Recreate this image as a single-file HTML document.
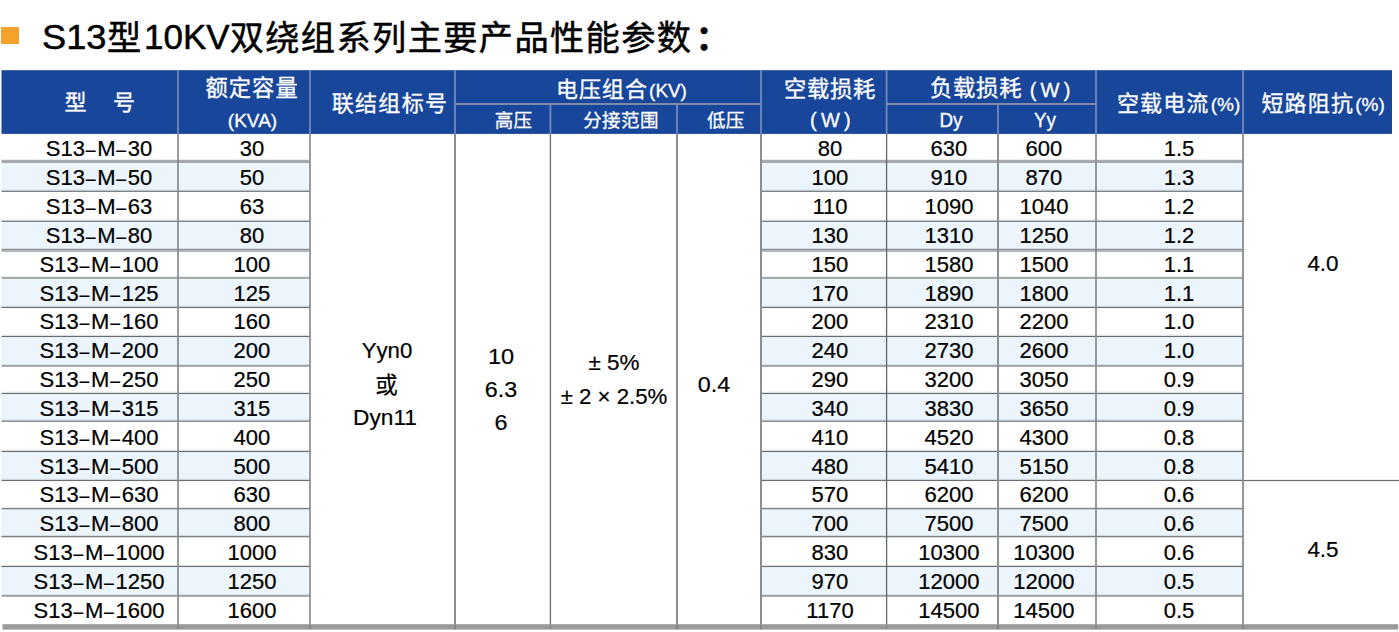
<!DOCTYPE html>
<html lang="zh-CN">
<head>
<meta charset="utf-8">
<title>S13型10KV双绕组系列主要产品性能参数</title>
<style>
html,body{margin:0;padding:0;background:#fff}
body{width:1399px;height:632px;position:relative;overflow:hidden;font-family:"Liberation Sans",sans-serif}
div,svg,span{position:absolute}
.ttl,.tbl,.th,.tr{position:static;margin:0;font-weight:normal;font-size:0}
.t{white-space:nowrap;line-height:1}
.tt{-webkit-text-stroke:0.5px #000}
.hw{-webkit-text-stroke:0.3px #fff}
.tr .t,.mc{-webkit-text-stroke:0.2px #000}
.tr i{display:inline-block;font-style:normal;transform:translateY(0.7px) scaleX(0.8)}
.cj{font-family:"Liberation Sans","Noto Sans CJK SC",sans-serif;font-weight:normal}
.sq{background:#f5a12b}
.grid{left:0;top:0}
.hd{fill:#17469a}
.st{fill:#ebf5fb}
.hl{fill:#6a6e73}
.vl{fill:#8a8e93}
.h2{fill:#a4a8ad}
.hs{fill:rgba(100,110,118,.17)}
.vb{fill:rgba(0,0,0,.13)}
.hv{fill:#7488bb}
.hh{fill:#838aa8}
.bar{fill:#9a9a9a}
</style>
</head>
<body>
<!-- title -->
<div class="sq" style="left:1.3px;top:27.0px;width:17.7px;height:16.6px"></div>
<h1 class="ttl" aria-label="S13型10KV双绕组系列主要产品性能参数：">
<span class="t tt" style="left:42.0px;top:19.80px;font-size:34.5px;color:#000;transform:scaleX(1.05);transform-origin:0 50%">S13</span>
<span class="t tt cj" style="left:107.0px;top:20.8px;font-size:34.2px;color:#000">型</span>
<span class="t tt" style="left:144.3px;top:19.80px;font-size:34.5px;color:#000;transform:scaleX(1.015);transform-origin:0 50%">10KV</span>
<span class="t tt cj" style="left:229.7px;top:20.8px;font-size:34.2px;color:#000;letter-spacing:1.4px">双绕组系列主要产品性能参数</span>
<span class="t tt cj" style="left:695.5px;top:20.8px;font-size:34.2px;color:#000;font-weight:bold">：</span>
</h1>
<!-- table -->
<div class="tbl" role="table">
<svg class="grid" width="1399" height="632" viewBox="0 0 1399 632" aria-hidden="true">
<rect class="hd" x="1.5" y="70.2" width="1390.5" height="63.7"/>
<rect class="st" x="1.5" y="161" width="308.5" height="30.3"/>
<rect class="st" x="761" y="161" width="482" height="30.3"/>
<rect class="st" x="1.5" y="221.3" width="308.5" height="28.5"/>
<rect class="st" x="761" y="221.3" width="482" height="28.5"/>
<rect class="st" x="1.5" y="278" width="308.5" height="29.5"/>
<rect class="st" x="761" y="278" width="482" height="29.5"/>
<rect class="st" x="1.5" y="336.5" width="308.5" height="29.5"/>
<rect class="st" x="761" y="336.5" width="482" height="29.5"/>
<rect class="st" x="1.5" y="393.5" width="308.5" height="27.7"/>
<rect class="st" x="761" y="393.5" width="482" height="27.7"/>
<rect class="st" x="1.5" y="451.5" width="308.5" height="29"/>
<rect class="st" x="761" y="451.5" width="482" height="29"/>
<rect class="st" x="1.5" y="508.7" width="308.5" height="28"/>
<rect class="st" x="761" y="508.7" width="482" height="28"/>
<rect class="st" x="1.5" y="566.5" width="308.5" height="29.5"/>
<rect class="st" x="761" y="566.5" width="482" height="29.5"/>
<rect class="hs" x="1.5" y="159.2" width="308.5" height="1.3"/>
<rect class="hs" x="761" y="159.2" width="482" height="1.3"/>
<rect class="hl" x="1.5" y="160.45" width="308.5" height="1.1"/>
<rect class="hl" x="761" y="160.45" width="482" height="1.1"/>
<rect class="h2" x="1.5" y="161.6" width="308.5" height="1.4"/>
<rect class="h2" x="761" y="161.6" width="482" height="1.4"/>
<rect class="hs" x="1.5" y="189.5" width="308.5" height="1.3"/>
<rect class="hs" x="761" y="189.5" width="482" height="1.3"/>
<rect class="hl" x="1.5" y="190.75" width="308.5" height="1.1"/>
<rect class="hl" x="761" y="190.75" width="482" height="1.1"/>
<rect class="hs" x="1.5" y="219.5" width="308.5" height="1.3"/>
<rect class="hs" x="761" y="219.5" width="482" height="1.3"/>
<rect class="hl" x="1.5" y="220.75" width="308.5" height="1.1"/>
<rect class="hl" x="761" y="220.75" width="482" height="1.1"/>
<rect class="hs" x="1.5" y="248" width="308.5" height="1.3"/>
<rect class="hs" x="761" y="248" width="482" height="1.3"/>
<rect class="hl" x="1.5" y="249.25" width="308.5" height="1.1"/>
<rect class="hl" x="761" y="249.25" width="482" height="1.1"/>
<rect class="h2" x="1.5" y="250.4" width="308.5" height="1.4"/>
<rect class="h2" x="761" y="250.4" width="482" height="1.4"/>
<rect class="hs" x="1.5" y="276.2" width="308.5" height="1.3"/>
<rect class="hs" x="761" y="276.2" width="482" height="1.3"/>
<rect class="hl" x="1.5" y="277.45" width="308.5" height="1.1"/>
<rect class="hl" x="761" y="277.45" width="482" height="1.1"/>
<rect class="hs" x="1.5" y="305.7" width="308.5" height="1.3"/>
<rect class="hs" x="761" y="305.7" width="482" height="1.3"/>
<rect class="hl" x="1.5" y="306.95" width="308.5" height="1.1"/>
<rect class="hl" x="761" y="306.95" width="482" height="1.1"/>
<rect class="hs" x="1.5" y="334.7" width="308.5" height="1.3"/>
<rect class="hs" x="761" y="334.7" width="482" height="1.3"/>
<rect class="hl" x="1.5" y="335.95" width="308.5" height="1.1"/>
<rect class="hl" x="761" y="335.95" width="482" height="1.1"/>
<rect class="hs" x="1.5" y="364.2" width="308.5" height="1.3"/>
<rect class="hs" x="761" y="364.2" width="482" height="1.3"/>
<rect class="hl" x="1.5" y="365.45" width="308.5" height="1.1"/>
<rect class="hl" x="761" y="365.45" width="482" height="1.1"/>
<rect class="hs" x="1.5" y="391.7" width="308.5" height="1.3"/>
<rect class="hs" x="761" y="391.7" width="482" height="1.3"/>
<rect class="hl" x="1.5" y="392.95" width="308.5" height="1.1"/>
<rect class="hl" x="761" y="392.95" width="482" height="1.1"/>
<rect class="hs" x="1.5" y="419.4" width="308.5" height="1.3"/>
<rect class="hs" x="761" y="419.4" width="482" height="1.3"/>
<rect class="hl" x="1.5" y="420.65" width="308.5" height="1.1"/>
<rect class="hl" x="761" y="420.65" width="482" height="1.1"/>
<rect class="hs" x="1.5" y="449.7" width="308.5" height="1.3"/>
<rect class="hs" x="761" y="449.7" width="482" height="1.3"/>
<rect class="hl" x="1.5" y="450.95" width="308.5" height="1.1"/>
<rect class="hl" x="761" y="450.95" width="482" height="1.1"/>
<rect class="hs" x="1.5" y="478.7" width="308.5" height="1.3"/>
<rect class="hs" x="761" y="478.7" width="482" height="1.3"/>
<rect class="hl" x="1.5" y="479.95" width="308.5" height="1.1"/>
<rect class="hl" x="761" y="479.95" width="482" height="1.1"/>
<rect class="hs" x="1.5" y="506.9" width="308.5" height="1.3"/>
<rect class="hs" x="761" y="506.9" width="482" height="1.3"/>
<rect class="hl" x="1.5" y="508.15" width="308.5" height="1.1"/>
<rect class="hl" x="761" y="508.15" width="482" height="1.1"/>
<rect class="hs" x="1.5" y="534.9" width="308.5" height="1.3"/>
<rect class="hs" x="761" y="534.9" width="482" height="1.3"/>
<rect class="hl" x="1.5" y="536.15" width="308.5" height="1.1"/>
<rect class="hl" x="761" y="536.15" width="482" height="1.1"/>
<rect class="hs" x="1.5" y="564.7" width="308.5" height="1.3"/>
<rect class="hs" x="761" y="564.7" width="482" height="1.3"/>
<rect class="hl" x="1.5" y="565.95" width="308.5" height="1.1"/>
<rect class="hl" x="761" y="565.95" width="482" height="1.1"/>
<rect class="hs" x="1.5" y="594.2" width="308.5" height="1.3"/>
<rect class="hs" x="761" y="594.2" width="482" height="1.3"/>
<rect class="hl" x="1.5" y="595.45" width="308.5" height="1.1"/>
<rect class="hl" x="761" y="595.45" width="482" height="1.1"/>
<rect class="hl" x="1243" y="479.9" width="156" height="1.2"/>
<rect class="bar" x="2.5" y="624.2" width="1395.7" height="5.4"/>
<rect class="vl" x="177.15" y="133.9" width="1.7" height="490.3" style="fill:#868a90"/>
<rect class="vb" x="177.15" y="624.2" width="1.7" height="5.4"/>
<rect class="vl" x="309.15" y="133.9" width="1.7" height="490.3" style="fill:#8a8c8f"/>
<rect class="vb" x="309.15" y="624.2" width="1.7" height="5.4"/>
<rect class="vl" x="454" y="133.9" width="2" height="490.3" style="fill:#8c8e91"/>
<rect class="vb" x="454" y="624.2" width="2" height="5.4"/>
<rect class="vl" x="549.75" y="133.9" width="1.3" height="490.3" style="fill:#686b6f"/>
<rect class="vb" x="549.75" y="624.2" width="1.3" height="5.4"/>
<rect class="vl" x="676" y="133.9" width="2" height="490.3" style="fill:#8c8e91"/>
<rect class="vb" x="676" y="624.2" width="2" height="5.4"/>
<rect class="vl" x="760" y="133.9" width="2" height="490.3" style="fill:#8c8e91"/>
<rect class="vb" x="760" y="624.2" width="2" height="5.4"/>
<rect class="vl" x="885.95" y="133.9" width="1.3" height="490.3" style="fill:#62666b"/>
<rect class="vb" x="885.95" y="624.2" width="1.3" height="5.4"/>
<rect class="vl" x="997" y="133.9" width="2" height="490.3" style="fill:#8c9095"/>
<rect class="vb" x="997" y="624.2" width="2" height="5.4"/>
<rect class="vl" x="1095.15" y="133.9" width="1.7" height="490.3" style="fill:#868a8f"/>
<rect class="vb" x="1095.15" y="624.2" width="1.7" height="5.4"/>
<rect class="vl" x="1242.1" y="133.9" width="1.8" height="490.3" style="fill:#8a8c8f"/>
<rect class="vb" x="1242.1" y="624.2" width="1.8" height="5.4"/>
<rect class="hv" x="177.1" y="70.2" width="1.8" height="63.7"/>
<rect class="hv" x="309.1" y="70.2" width="1.8" height="63.7"/>
<rect class="hv" x="454.1" y="70.2" width="1.8" height="63.7"/>
<rect class="hv" x="549.5" y="104" width="1.8" height="29.9"/>
<rect class="hv" x="676.1" y="104" width="1.8" height="29.9"/>
<rect class="hv" x="760.1" y="70.2" width="1.8" height="63.7"/>
<rect class="hv" x="885.7" y="70.2" width="1.8" height="63.7"/>
<rect class="hv" x="997.1" y="104" width="1.8" height="29.9"/>
<rect class="hv" x="1095.1" y="70.2" width="1.8" height="63.7"/>
<rect class="hv" x="1242.1" y="70.2" width="1.8" height="63.7"/>
<rect class="hh" x="455" y="103" width="306" height="2"/>
<rect class="hh" x="886.6" y="103" width="209.4" height="2"/>
</svg>
<div class="th" role="columnheader">
<span class="t hw cj" style="left:64.4px;top:91.7px;font-size:22px;color:#fff">型</span>
<span class="t hw cj" style="left:113.0px;top:91.7px;font-size:22px;color:#fff">号</span>
</div>
<span class="t hw cj" style="left:205.5px;top:78.3px;font-size:22.3px;color:#fff;letter-spacing:1px">额定容量</span>
<span class="t hw" style="left:252.5px;top:111.12px;font-size:19px;color:#fff;transform:translateX(-50%)">(KVA)</span>
<span class="t hw cj" style="left:331.8px;top:92.5px;font-size:22px;color:#fff;letter-spacing:1.28px">联结组标号</span>
<span class="t hw cj" style="left:556.0px;top:79.0px;font-size:22px;color:#fff;letter-spacing:1px">电压组合</span>
<span class="t hw" style="left:668.0px;top:81.76px;font-size:18px;color:#fff;transform:translateX(-50%) scaleX(1.05)">(KV)</span>
<span class="t hw cj" style="left:494.8px;top:111.6px;font-size:18.5px;color:#fff;letter-spacing:0.25px">高压</span>
<span class="t hw cj" style="left:583.2px;top:111.8px;font-size:18.5px;color:#fff;letter-spacing:0.4px">分接范围</span>
<span class="t hw cj" style="left:706.9px;top:111.6px;font-size:18.5px;color:#fff;letter-spacing:0.25px">低压</span>
<span class="t hw cj" style="left:783.9px;top:78.7px;font-size:22.3px;color:#fff;letter-spacing:0.75px">空载损耗</span>
<span class="t hw" style="left:830.0px;top:110.07px;font-size:20px;color:#fff;transform:translateX(-50%);letter-spacing:-0.7px">( W )</span>
<span class="t hw cj" style="left:929.9px;top:78.1px;font-size:22.4px;color:#fff;letter-spacing:0.7px">负载损耗</span>
<span class="t hw" style="left:1049.7px;top:80.47px;font-size:20px;color:#fff;transform:translateX(-50%);letter-spacing:-0.7px">( W )</span>
<span class="t hw" style="left:950.8px;top:109.97px;font-size:20px;color:#fff;transform:translateX(-50%) scaleX(0.94)">Dy</span>
<span class="t hw" style="left:1044.8px;top:109.97px;font-size:20px;color:#fff;transform:translateX(-50%) scaleX(0.94)">Yy</span>
<span class="t hw cj" style="left:1117.0px;top:92.6px;font-size:22px;color:#fff;letter-spacing:1.1px">空载电流</span>
<span class="t hw" style="left:1225.5px;top:95.12px;font-size:19px;color:#fff;transform:translateX(-50%)">(%)</span>
<span class="t hw cj" style="left:1261.4px;top:92.6px;font-size:22px;color:#fff;letter-spacing:1.2px">短路阻抗</span>
<span class="t hw" style="left:1370.0px;top:95.12px;font-size:19px;color:#fff;transform:translateX(-50%)">(%)</span>
<div class="tr" role="row">
<span class="t" style="left:99.4px;top:138.47px;font-size:21.6px;color:#000;transform:translateX(-50%) scaleX(1.02)">S13<i>–</i>M<i>–</i>30</span>
<span class="t" style="left:251.8px;top:138.47px;font-size:21.6px;color:#000;transform:translateX(-50%) scaleX(1.02)">30</span>
<span class="t" style="left:829.9px;top:138.47px;font-size:21.6px;color:#000;transform:translateX(-50%) scaleX(1.02)">80</span>
<span class="t" style="left:949.0px;top:138.47px;font-size:21.6px;color:#000;transform:translateX(-50%) scaleX(1.02)">630</span>
<span class="t" style="left:1044.0px;top:138.47px;font-size:21.6px;color:#000;transform:translateX(-50%) scaleX(1.02)">600</span>
<span class="t" style="left:1178.5px;top:138.47px;font-size:21.6px;color:#000;transform:translateX(-50%) scaleX(1.02)">1.5</span>
</div>
<div class="tr" role="row">
<span class="t" style="left:99.4px;top:167.30px;font-size:21.6px;color:#000;transform:translateX(-50%) scaleX(1.02)">S13<i>–</i>M<i>–</i>50</span>
<span class="t" style="left:251.8px;top:167.30px;font-size:21.6px;color:#000;transform:translateX(-50%) scaleX(1.02)">50</span>
<span class="t" style="left:829.9px;top:167.30px;font-size:21.6px;color:#000;transform:translateX(-50%) scaleX(1.02)">100</span>
<span class="t" style="left:949.0px;top:167.30px;font-size:21.6px;color:#000;transform:translateX(-50%) scaleX(1.02)">910</span>
<span class="t" style="left:1044.0px;top:167.30px;font-size:21.6px;color:#000;transform:translateX(-50%) scaleX(1.02)">870</span>
<span class="t" style="left:1178.5px;top:167.30px;font-size:21.6px;color:#000;transform:translateX(-50%) scaleX(1.02)">1.3</span>
</div>
<div class="tr" role="row">
<span class="t" style="left:99.4px;top:196.13px;font-size:21.6px;color:#000;transform:translateX(-50%) scaleX(1.02)">S13<i>–</i>M<i>–</i>63</span>
<span class="t" style="left:251.8px;top:196.13px;font-size:21.6px;color:#000;transform:translateX(-50%) scaleX(1.02)">63</span>
<span class="t" style="left:829.9px;top:196.13px;font-size:21.6px;color:#000;transform:translateX(-50%) scaleX(1.02)">110</span>
<span class="t" style="left:949.0px;top:196.13px;font-size:21.6px;color:#000;transform:translateX(-50%) scaleX(1.02)">1090</span>
<span class="t" style="left:1044.0px;top:196.13px;font-size:21.6px;color:#000;transform:translateX(-50%) scaleX(1.02)">1040</span>
<span class="t" style="left:1178.5px;top:196.13px;font-size:21.6px;color:#000;transform:translateX(-50%) scaleX(1.02)">1.2</span>
</div>
<div class="tr" role="row">
<span class="t" style="left:99.4px;top:224.96px;font-size:21.6px;color:#000;transform:translateX(-50%) scaleX(1.02)">S13<i>–</i>M<i>–</i>80</span>
<span class="t" style="left:251.8px;top:224.96px;font-size:21.6px;color:#000;transform:translateX(-50%) scaleX(1.02)">80</span>
<span class="t" style="left:829.9px;top:224.96px;font-size:21.6px;color:#000;transform:translateX(-50%) scaleX(1.02)">130</span>
<span class="t" style="left:949.0px;top:224.96px;font-size:21.6px;color:#000;transform:translateX(-50%) scaleX(1.02)">1310</span>
<span class="t" style="left:1044.0px;top:224.96px;font-size:21.6px;color:#000;transform:translateX(-50%) scaleX(1.02)">1250</span>
<span class="t" style="left:1178.5px;top:224.96px;font-size:21.6px;color:#000;transform:translateX(-50%) scaleX(1.02)">1.2</span>
</div>
<div class="tr" role="row">
<span class="t" style="left:99.4px;top:253.79px;font-size:21.6px;color:#000;transform:translateX(-50%) scaleX(1.02)">S13<i>–</i>M<i>–</i>100</span>
<span class="t" style="left:251.8px;top:253.79px;font-size:21.6px;color:#000;transform:translateX(-50%) scaleX(1.02)">100</span>
<span class="t" style="left:829.9px;top:253.79px;font-size:21.6px;color:#000;transform:translateX(-50%) scaleX(1.02)">150</span>
<span class="t" style="left:949.0px;top:253.79px;font-size:21.6px;color:#000;transform:translateX(-50%) scaleX(1.02)">1580</span>
<span class="t" style="left:1044.0px;top:253.79px;font-size:21.6px;color:#000;transform:translateX(-50%) scaleX(1.02)">1500</span>
<span class="t" style="left:1178.5px;top:253.79px;font-size:21.6px;color:#000;transform:translateX(-50%) scaleX(1.02)">1.1</span>
</div>
<div class="tr" role="row">
<span class="t" style="left:99.4px;top:282.62px;font-size:21.6px;color:#000;transform:translateX(-50%) scaleX(1.02)">S13<i>–</i>M<i>–</i>125</span>
<span class="t" style="left:251.8px;top:282.62px;font-size:21.6px;color:#000;transform:translateX(-50%) scaleX(1.02)">125</span>
<span class="t" style="left:829.9px;top:282.62px;font-size:21.6px;color:#000;transform:translateX(-50%) scaleX(1.02)">170</span>
<span class="t" style="left:949.0px;top:282.62px;font-size:21.6px;color:#000;transform:translateX(-50%) scaleX(1.02)">1890</span>
<span class="t" style="left:1044.0px;top:282.62px;font-size:21.6px;color:#000;transform:translateX(-50%) scaleX(1.02)">1800</span>
<span class="t" style="left:1178.5px;top:282.62px;font-size:21.6px;color:#000;transform:translateX(-50%) scaleX(1.02)">1.1</span>
</div>
<div class="tr" role="row">
<span class="t" style="left:99.4px;top:311.45px;font-size:21.6px;color:#000;transform:translateX(-50%) scaleX(1.02)">S13<i>–</i>M<i>–</i>160</span>
<span class="t" style="left:251.8px;top:311.45px;font-size:21.6px;color:#000;transform:translateX(-50%) scaleX(1.02)">160</span>
<span class="t" style="left:829.9px;top:311.45px;font-size:21.6px;color:#000;transform:translateX(-50%) scaleX(1.02)">200</span>
<span class="t" style="left:949.0px;top:311.45px;font-size:21.6px;color:#000;transform:translateX(-50%) scaleX(1.02)">2310</span>
<span class="t" style="left:1044.0px;top:311.45px;font-size:21.6px;color:#000;transform:translateX(-50%) scaleX(1.02)">2200</span>
<span class="t" style="left:1178.5px;top:311.45px;font-size:21.6px;color:#000;transform:translateX(-50%) scaleX(1.02)">1.0</span>
</div>
<div class="tr" role="row">
<span class="t" style="left:99.4px;top:340.28px;font-size:21.6px;color:#000;transform:translateX(-50%) scaleX(1.02)">S13<i>–</i>M<i>–</i>200</span>
<span class="t" style="left:251.8px;top:340.28px;font-size:21.6px;color:#000;transform:translateX(-50%) scaleX(1.02)">200</span>
<span class="t" style="left:829.9px;top:340.28px;font-size:21.6px;color:#000;transform:translateX(-50%) scaleX(1.02)">240</span>
<span class="t" style="left:949.0px;top:340.28px;font-size:21.6px;color:#000;transform:translateX(-50%) scaleX(1.02)">2730</span>
<span class="t" style="left:1044.0px;top:340.28px;font-size:21.6px;color:#000;transform:translateX(-50%) scaleX(1.02)">2600</span>
<span class="t" style="left:1178.5px;top:340.28px;font-size:21.6px;color:#000;transform:translateX(-50%) scaleX(1.02)">1.0</span>
</div>
<div class="tr" role="row">
<span class="t" style="left:99.4px;top:369.11px;font-size:21.6px;color:#000;transform:translateX(-50%) scaleX(1.02)">S13<i>–</i>M<i>–</i>250</span>
<span class="t" style="left:251.8px;top:369.11px;font-size:21.6px;color:#000;transform:translateX(-50%) scaleX(1.02)">250</span>
<span class="t" style="left:829.9px;top:369.11px;font-size:21.6px;color:#000;transform:translateX(-50%) scaleX(1.02)">290</span>
<span class="t" style="left:949.0px;top:369.11px;font-size:21.6px;color:#000;transform:translateX(-50%) scaleX(1.02)">3200</span>
<span class="t" style="left:1044.0px;top:369.11px;font-size:21.6px;color:#000;transform:translateX(-50%) scaleX(1.02)">3050</span>
<span class="t" style="left:1178.5px;top:369.11px;font-size:21.6px;color:#000;transform:translateX(-50%) scaleX(1.02)">0.9</span>
</div>
<div class="tr" role="row">
<span class="t" style="left:99.4px;top:397.94px;font-size:21.6px;color:#000;transform:translateX(-50%) scaleX(1.02)">S13<i>–</i>M<i>–</i>315</span>
<span class="t" style="left:251.8px;top:397.94px;font-size:21.6px;color:#000;transform:translateX(-50%) scaleX(1.02)">315</span>
<span class="t" style="left:829.9px;top:397.94px;font-size:21.6px;color:#000;transform:translateX(-50%) scaleX(1.02)">340</span>
<span class="t" style="left:949.0px;top:397.94px;font-size:21.6px;color:#000;transform:translateX(-50%) scaleX(1.02)">3830</span>
<span class="t" style="left:1044.0px;top:397.94px;font-size:21.6px;color:#000;transform:translateX(-50%) scaleX(1.02)">3650</span>
<span class="t" style="left:1178.5px;top:397.94px;font-size:21.6px;color:#000;transform:translateX(-50%) scaleX(1.02)">0.9</span>
</div>
<div class="tr" role="row">
<span class="t" style="left:99.4px;top:426.77px;font-size:21.6px;color:#000;transform:translateX(-50%) scaleX(1.02)">S13<i>–</i>M<i>–</i>400</span>
<span class="t" style="left:251.8px;top:426.77px;font-size:21.6px;color:#000;transform:translateX(-50%) scaleX(1.02)">400</span>
<span class="t" style="left:829.9px;top:426.77px;font-size:21.6px;color:#000;transform:translateX(-50%) scaleX(1.02)">410</span>
<span class="t" style="left:949.0px;top:426.77px;font-size:21.6px;color:#000;transform:translateX(-50%) scaleX(1.02)">4520</span>
<span class="t" style="left:1044.0px;top:426.77px;font-size:21.6px;color:#000;transform:translateX(-50%) scaleX(1.02)">4300</span>
<span class="t" style="left:1178.5px;top:426.77px;font-size:21.6px;color:#000;transform:translateX(-50%) scaleX(1.02)">0.8</span>
</div>
<div class="tr" role="row">
<span class="t" style="left:99.4px;top:455.60px;font-size:21.6px;color:#000;transform:translateX(-50%) scaleX(1.02)">S13<i>–</i>M<i>–</i>500</span>
<span class="t" style="left:251.8px;top:455.60px;font-size:21.6px;color:#000;transform:translateX(-50%) scaleX(1.02)">500</span>
<span class="t" style="left:829.9px;top:455.60px;font-size:21.6px;color:#000;transform:translateX(-50%) scaleX(1.02)">480</span>
<span class="t" style="left:949.0px;top:455.60px;font-size:21.6px;color:#000;transform:translateX(-50%) scaleX(1.02)">5410</span>
<span class="t" style="left:1044.0px;top:455.60px;font-size:21.6px;color:#000;transform:translateX(-50%) scaleX(1.02)">5150</span>
<span class="t" style="left:1178.5px;top:455.60px;font-size:21.6px;color:#000;transform:translateX(-50%) scaleX(1.02)">0.8</span>
</div>
<div class="tr" role="row">
<span class="t" style="left:99.4px;top:484.43px;font-size:21.6px;color:#000;transform:translateX(-50%) scaleX(1.02)">S13<i>–</i>M<i>–</i>630</span>
<span class="t" style="left:251.8px;top:484.43px;font-size:21.6px;color:#000;transform:translateX(-50%) scaleX(1.02)">630</span>
<span class="t" style="left:829.9px;top:484.43px;font-size:21.6px;color:#000;transform:translateX(-50%) scaleX(1.02)">570</span>
<span class="t" style="left:949.0px;top:484.43px;font-size:21.6px;color:#000;transform:translateX(-50%) scaleX(1.02)">6200</span>
<span class="t" style="left:1044.0px;top:484.43px;font-size:21.6px;color:#000;transform:translateX(-50%) scaleX(1.02)">6200</span>
<span class="t" style="left:1178.5px;top:484.43px;font-size:21.6px;color:#000;transform:translateX(-50%) scaleX(1.02)">0.6</span>
</div>
<div class="tr" role="row">
<span class="t" style="left:99.4px;top:513.26px;font-size:21.6px;color:#000;transform:translateX(-50%) scaleX(1.02)">S13<i>–</i>M<i>–</i>800</span>
<span class="t" style="left:251.8px;top:513.26px;font-size:21.6px;color:#000;transform:translateX(-50%) scaleX(1.02)">800</span>
<span class="t" style="left:829.9px;top:513.26px;font-size:21.6px;color:#000;transform:translateX(-50%) scaleX(1.02)">700</span>
<span class="t" style="left:949.0px;top:513.26px;font-size:21.6px;color:#000;transform:translateX(-50%) scaleX(1.02)">7500</span>
<span class="t" style="left:1044.0px;top:513.26px;font-size:21.6px;color:#000;transform:translateX(-50%) scaleX(1.02)">7500</span>
<span class="t" style="left:1178.5px;top:513.26px;font-size:21.6px;color:#000;transform:translateX(-50%) scaleX(1.02)">0.6</span>
</div>
<div class="tr" role="row">
<span class="t" style="left:99.4px;top:542.09px;font-size:21.6px;color:#000;transform:translateX(-50%) scaleX(1.02)">S13<i>–</i>M<i>–</i>1000</span>
<span class="t" style="left:251.8px;top:542.09px;font-size:21.6px;color:#000;transform:translateX(-50%) scaleX(1.02)">1000</span>
<span class="t" style="left:829.9px;top:542.09px;font-size:21.6px;color:#000;transform:translateX(-50%) scaleX(1.02)">830</span>
<span class="t" style="left:949.0px;top:542.09px;font-size:21.6px;color:#000;transform:translateX(-50%) scaleX(1.02)">10300</span>
<span class="t" style="left:1044.0px;top:542.09px;font-size:21.6px;color:#000;transform:translateX(-50%) scaleX(1.02)">10300</span>
<span class="t" style="left:1178.5px;top:542.09px;font-size:21.6px;color:#000;transform:translateX(-50%) scaleX(1.02)">0.6</span>
</div>
<div class="tr" role="row">
<span class="t" style="left:99.4px;top:570.92px;font-size:21.6px;color:#000;transform:translateX(-50%) scaleX(1.02)">S13<i>–</i>M<i>–</i>1250</span>
<span class="t" style="left:251.8px;top:570.92px;font-size:21.6px;color:#000;transform:translateX(-50%) scaleX(1.02)">1250</span>
<span class="t" style="left:829.9px;top:570.92px;font-size:21.6px;color:#000;transform:translateX(-50%) scaleX(1.02)">970</span>
<span class="t" style="left:949.0px;top:570.92px;font-size:21.6px;color:#000;transform:translateX(-50%) scaleX(1.02)">12000</span>
<span class="t" style="left:1044.0px;top:570.92px;font-size:21.6px;color:#000;transform:translateX(-50%) scaleX(1.02)">12000</span>
<span class="t" style="left:1178.5px;top:570.92px;font-size:21.6px;color:#000;transform:translateX(-50%) scaleX(1.02)">0.5</span>
</div>
<div class="tr" role="row">
<span class="t" style="left:99.4px;top:599.75px;font-size:21.6px;color:#000;transform:translateX(-50%) scaleX(1.02)">S13<i>–</i>M<i>–</i>1600</span>
<span class="t" style="left:251.8px;top:599.75px;font-size:21.6px;color:#000;transform:translateX(-50%) scaleX(1.02)">1600</span>
<span class="t" style="left:829.9px;top:599.75px;font-size:21.6px;color:#000;transform:translateX(-50%) scaleX(1.02)">1170</span>
<span class="t" style="left:949.0px;top:599.75px;font-size:21.6px;color:#000;transform:translateX(-50%) scaleX(1.02)">14500</span>
<span class="t" style="left:1044.0px;top:599.75px;font-size:21.6px;color:#000;transform:translateX(-50%) scaleX(1.02)">14500</span>
<span class="t" style="left:1178.5px;top:599.75px;font-size:21.6px;color:#000;transform:translateX(-50%) scaleX(1.02)">0.5</span>
</div>
<span class="t mc" style="left:387.0px;top:340.18px;font-size:22px;color:#000;transform:translateX(-50%) scaleX(1.01)">Yyn0</span>
<span class="t mc cj" style="left:375.2px;top:374.8px;font-size:22.5px;color:#000">或</span>
<span class="t mc" style="left:385.3px;top:407.38px;font-size:22px;color:#000;transform:translateX(-50%) scaleX(1.03)">Dyn11</span>
<span class="t mc" style="left:500.6px;top:345.98px;font-size:22px;color:#000;transform:translateX(-50%) scaleX(1.07)">10</span>
<span class="t mc" style="left:500.6px;top:378.98px;font-size:22px;color:#000;transform:translateX(-50%) scaleX(1.06)">6.3</span>
<span class="t mc" style="left:500.9px;top:412.08px;font-size:22px;color:#000;transform:translateX(-50%) scaleX(1.06)">6</span>
<span class="t mc" style="left:614.3px;top:352.28px;font-size:22px;color:#000;transform:translateX(-50%) scaleX(1.02)">± 5%</span>
<span class="t mc" style="left:614.0px;top:385.58px;font-size:22px;color:#000;transform:translateX(-50%) scaleX(1.01)">± 2 × 2.5%</span>
<span class="t mc" style="left:714.2px;top:373.88px;font-size:22px;color:#000;transform:translateX(-50%) scaleX(1.06)">0.4</span>
<span class="t mc" style="left:1323.0px;top:253.22px;font-size:21.6px;color:#000;transform:translateX(-50%) scaleX(1.04)">4.0</span>
<span class="t mc" style="left:1323.0px;top:539.42px;font-size:21.6px;color:#000;transform:translateX(-50%) scaleX(1.04)">4.5</span>
</div>
</body>
</html>
